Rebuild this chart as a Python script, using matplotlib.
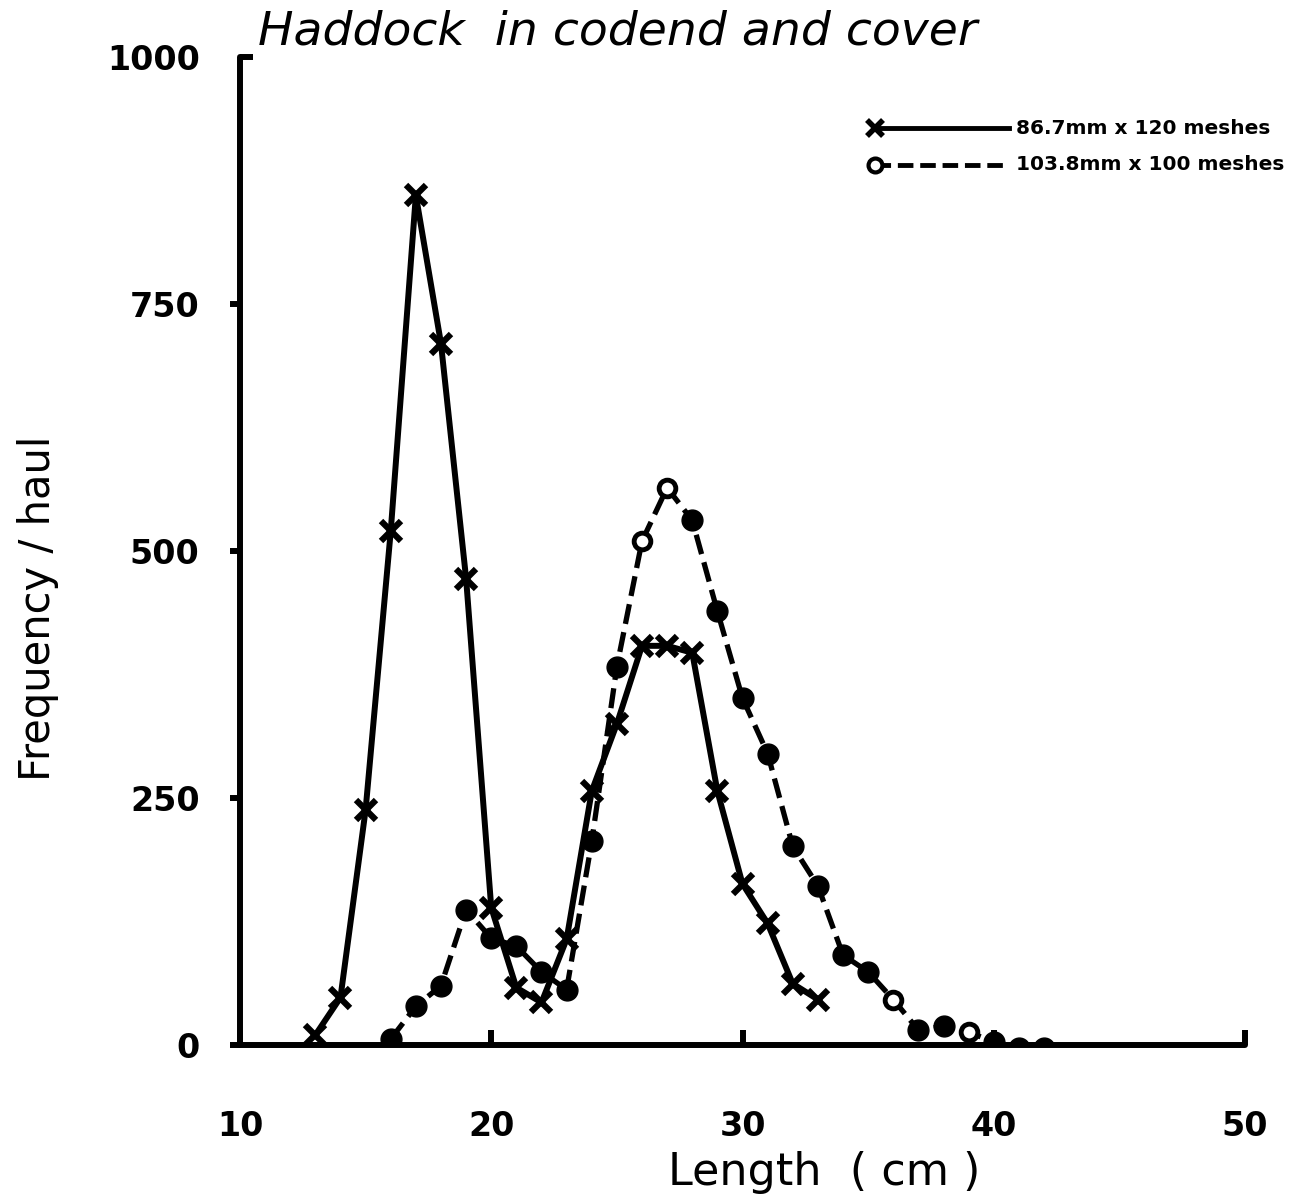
import numpy as np
from matplotlib import pyplot as plt

# length classes (cm) and frequency per haul
len_small = [13, 14, 15, 16, 17, 18, 19, 20, 21, 22, 23, 24, 25, 26, 27,
             28, 29, 30, 31, 32, 33]
freq_small = [10, 48, 238, 520, 860, 710, 472, 139, 58, 43, 107, 257, 325,
              404, 404, 397, 257, 163, 123, 62, 46]

len_large = [16, 17, 18, 19, 20, 21, 22, 23, 24, 25, 26, 27, 28, 29, 30,
             31, 32, 33, 34, 35, 36, 37, 38, 39, 40, 41, 42]
freq_large = [6, 39, 60, 137, 108, 100, 74, 56, 206, 383, 510, 564, 531,
              439, 351, 295, 201, 161, 91, 74, 46, 15, 19, 13, 3, -3, -3]
# points drawn with an open circle in the original
open_large = [26, 27, 36, 39]

label_small = "86.7mm x 120 meshes"
label_large = "103.8mm x 100 meshes"
title = "Haddock  in codend and cover"

x_ticks = [10, 20, 30, 40, 50]
y_ticks = [0, 250, 500, 750]

LW = 4.3

fig = plt.figure(figsize=(13.07, 11.96), dpi=100)
ax = fig.add_axes([0.1836, 0.1263, 0.769, 0.826])

ax.plot(len_small, freq_small, color='black', lw=LW, marker='x',
        markersize=15, markeredgewidth=4.5, zorder=3)

ax.plot(len_large, freq_large, color='black', lw=3.8, ls=(0, (3.8, 1.6)),
        zorder=2)
filled = [(l, f) for l, f in zip(len_large, freq_large) if l not in open_large]
hollow = [(l, f) for l, f in zip(len_large, freq_large) if l in open_large]
fx, fy = zip(*filled)
hx, hy = zip(*hollow)
ax.plot(fx, fy, ls='none', marker='o', markersize=15, color='black', zorder=4)
ax.plot(hx, hy, ls='none', marker='o', markersize=12, markerfacecolor='white',
        markeredgecolor='black', markeredgewidth=3.5, zorder=4)

ax.set_xlim(10, 50)
ax.set_ylim(0, 1000)

for s in ['top', 'right']:
    ax.spines[s].set_visible(False)
for s in ['left', 'bottom']:
    ax.spines[s].set_linewidth(LW)
    ax.spines[s].set_capstyle('round')

tick_font = dict(fontsize=24, fontweight='bold', family='DejaVu Sans')
ax.set_xticks(x_ticks)
ax.set_xticklabels([str(v) for v in x_ticks], **tick_font)
ax.set_yticks(y_ticks)
ax.set_yticklabels([str(v) for v in y_ticks], **tick_font)
ax.set_yticks([1000], labels=['1000'], minor=True, **tick_font)
ax.tick_params(axis='x', direction='in', length=11, width=LW, pad=47)
ax.tick_params(axis='y', which='major', direction='out', length=7, width=LW,
               pad=22)
ax.tick_params(axis='y', which='minor', direction='in', length=9, width=LW,
               pad=29)

ax.set_xlabel("Length  ( cm )", fontsize=32)
ax.xaxis.set_label_coords(0.581, -0.129)
ax.xaxis.label.set_va('center')
ax.set_ylabel("Frequency / haul", fontsize=30)
ax.yaxis.set_label_coords(-0.201, 0.442)
ax.yaxis.label.set_va('center')

ax.text(0.018, 1.003, title, transform=ax.transAxes, fontsize=34,
        style='italic', ha='left', va='bottom')

# hand-drawn style legend, top right
for y_leg, style, lab, mk in [(0.928, '-', label_small, 'x'),
                              (0.891, (0, (3.2, 1.4)), label_large, 'o')]:
    ax.plot([0.632, 0.765], [y_leg, y_leg], transform=ax.transAxes,
            color='black', lw=3.5, ls=style, clip_on=False)
    if mk == 'x':
        ax.plot([0.632], [y_leg], transform=ax.transAxes, marker='x',
                markersize=11, markeredgewidth=4, color='black', clip_on=False)
    else:
        ax.plot([0.632], [y_leg], transform=ax.transAxes, marker='o',
                markersize=10, markerfacecolor='white', markeredgecolor='black',
                markeredgewidth=3, clip_on=False)
    ax.text(0.772, y_leg, lab, transform=ax.transAxes, fontsize=14.5,
            fontweight='bold', va='center', ha='left')

fig.savefig('out.png', dpi=100)
